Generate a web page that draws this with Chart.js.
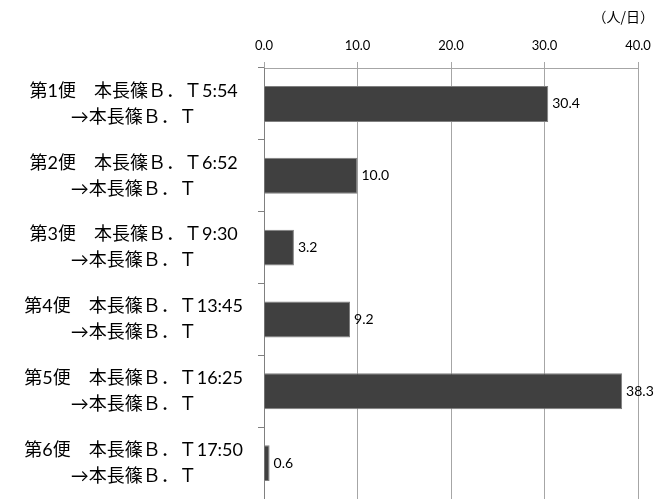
<!DOCTYPE html>
<html><head><meta charset="utf-8">
<script src="https://cdn.jsdelivr.net/npm/chart.js@4/dist/chart.umd.min.js"></script>
<style>html,body{margin:0;padding:0;background:#fff}#wrap{width:655px;height:499px}</style>
</head><body><div id="wrap"><canvas id="c" width="655" height="499"></canvas></div>
<script>
const categories = [
  ["第1便　本長篠Ｂ．Ｔ5:54", "→本長篠Ｂ．Ｔ"],
  ["第2便　本長篠Ｂ．Ｔ6:52", "→本長篠Ｂ．Ｔ"],
  ["第3便　本長篠Ｂ．Ｔ9:30", "→本長篠Ｂ．Ｔ"],
  ["第4便　本長篠Ｂ．Ｔ13:45", "→本長篠Ｂ．Ｔ"],
  ["第5便　本長篠Ｂ．Ｔ16:25", "→本長篠Ｂ．Ｔ"],
  ["第6便　本長篠Ｂ．Ｔ17:50", "→本長篠Ｂ．Ｔ"]
];
const values = [30.4, 10.0, 3.2, 9.2, 38.3, 0.6];
const tickValues = [0, 10, 20, 30, 40];
const unitLabel = "（人/日）";

const FONT = "Lato, 'Noto Sans CJK JP', sans-serif";

const extras = {
  id: 'extras',
  afterDraw(chart) {
    const ctx = chart.ctx;
    const meta = chart.getDatasetMeta(0);
    ctx.save();
    ctx.font = "14px " + FONT;
    ctx.fillStyle = "#000";
    ctx.textAlign = "left";
    ctx.textBaseline = "middle";
    meta.data.forEach((bar, i) => {
      ctx.fillText(values[i].toFixed(1), bar.x + 4, bar.y);
    });
    ctx.font = "14px 'Noto Sans CJK JP', sans-serif";
    ctx.textAlign = "right";
    ctx.fillText(unitLabel, chart.chartArea.right + 16, 17);
    ctx.restore();
  }
};

new Chart(document.getElementById('c'), {
  type: 'bar',
  data: {
    labels: categories,
    datasets: [{
      data: values,
      backgroundColor: '#404040',
      borderColor: '#7f7f7f',
      borderWidth: 1,
      categoryPercentage: 1,
      barPercentage: 0.5
    }]
  },
  options: {
    indexAxis: 'y',
    responsive: false,
    animation: false,
    layout: { padding: { top: 33, right: 17, left: 0, bottom: 0 } },
    plugins: {
      legend: { display: false },
      tooltip: { enabled: false },
      title: { display: false }
    },
    scales: {
      x: {
        position: 'top', min: 0, max: 40,
        afterBuildTicks(scale) { scale.ticks = tickValues.map(v => ({ value: v })); },
        afterFit(scale) { scale.height = 35; scale.paddingLeft = 0; scale.paddingRight = 0; },
        ticks: {
          color: '#000', padding: 8, maxRotation: 0,
          font: { family: FONT, size: 13 },
          callback: v => Number(v).toFixed(1)
        },
        grid: { color: '#a6a6a6', tickLength: 6, drawTicks: true },
        border: { color: '#a6a6a6' }
      },
      y: {
        afterFit(scale) { scale.width = 264; scale.paddingTop = 0; scale.paddingBottom = 0; },
        ticks: {
          color: '#000', padding: 15, crossAlign: 'center',
          font: { family: FONT, size: 18, lineHeight: 1.45 }
        },
        grid: { drawOnChartArea: false, tickLength: 6, color: '#808080' },
        border: { color: '#808080' }
      }
    }
  },
  plugins: [extras]
});
</script>
</body></html>
